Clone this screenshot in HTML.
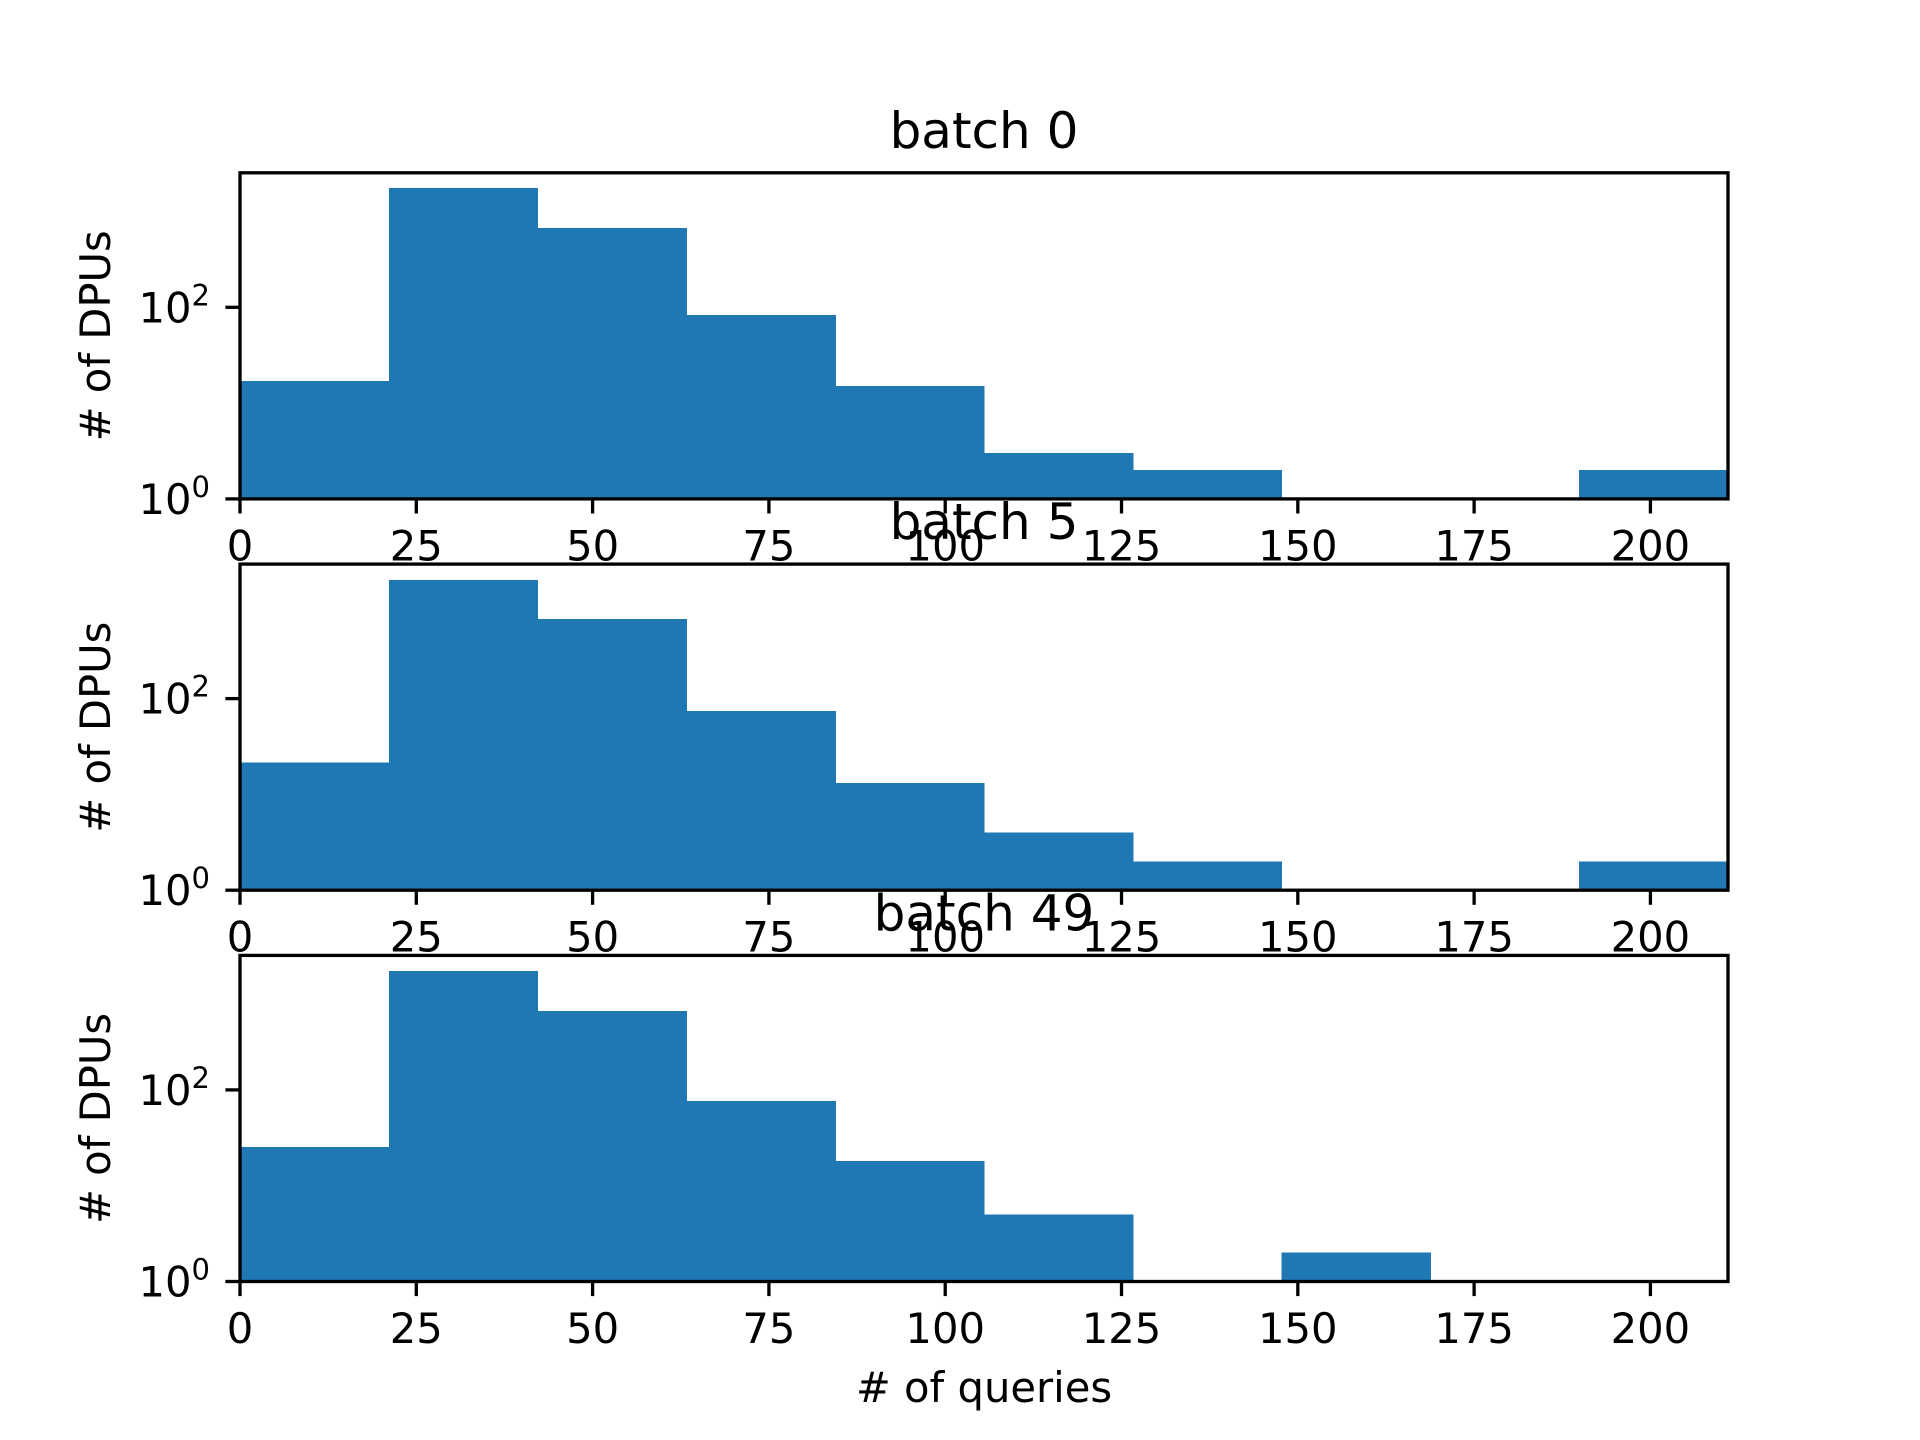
<!DOCTYPE html>
<html><head><meta charset="utf-8"><style>
html,body{margin:0;padding:0;background:#fff;}
svg{display:block;font-family:"DejaVu Sans","Liberation Sans",sans-serif;}
</style></head><body>
<svg id="chart" width="1920" height="1440" viewBox="0 0 1920 1440" xmlns="http://www.w3.org/2000/svg">
<rect x="0" y="0" width="1920" height="1440" fill="#fff"/>
</svg>
<script>
const panelTitles = ["batch 0", "batch 5", "batch 49"];
const binEdgeStart = 0;
const binWidth = 21.1;
const countsBatch0 = [17, 1760, 675, 83, 15, 3, 2, 0, 0, 2];
const countsBatch5 = [21.5, 1730, 677, 74, 13.2, 4, 2, 0, 0, 2];
const countsBatch49 = [25.4, 1746, 668, 77, 18, 5, 0, 2, 0, 0];
const xTicks = [0, 25, 50, 75, 100, 125, 150, 175, 200];
const yTickExps = [0, 2];

const series = [countsBatch0, countsBatch5, countsBatch49];
const NS = "http://www.w3.org/2000/svg";
const svg = document.getElementById("chart");
const L = 240, R = 1728, xMax = 211;
const panelTops = [172.8, 564.1, 955.4];
const H = 326.1;
const decadePx = 95.8;

function xs(v){ return L + (v / xMax) * (R - L); }
function mk(tag, attrs){ const e = document.createElementNS(NS, tag); for (const k in attrs) e.setAttribute(k, attrs[k]); return e; }

series.forEach((counts, p) => {
  const top = panelTops[p], bot = top + H;
  const ys = v => bot - Math.log10(v) * decadePx;
  const g = mk("g", {});
  
  
  svg.appendChild(g);

  counts.forEach((c, i) => {
    if (c <= 0) return;
    const x0 = xs(binEdgeStart + i * binWidth), x1 = Math.min(xs(binEdgeStart + (i + 1) * binWidth), R);
    const y = Math.max(ys(c), top);
    const r = mk("rect", {x: x0, y: y, width: x1 - x0 + 0.6, height: bot - y, fill: "#1f77b4", "shape-rendering": "crispEdges"});
    
    
    g.appendChild(r);
  });

  const frame = mk("rect", {x: L, y: top, width: R - L, height: H, fill: "none", stroke: "#000", "stroke-width": 3.3});
  
  
  g.appendChild(frame);

  xTicks.forEach(t => {
    const x = xs(t);
    const tk = mk("line", {x1: x, x2: x, y1: bot, y2: bot + 14.6, stroke: "#000", "stroke-width": 3.3});
    
    
    g.appendChild(tk);
    const tx = mk("text", {x: x, y: bot + 61.5, "font-size": 41.7, "text-anchor": "middle", fill: "#000"});
    tx.textContent = String(t);
    
    
    g.appendChild(tx);
  });

  yTickExps.forEach(e => {
    const y = bot - e * decadePx;
    const tk = mk("line", {x1: L - 14.6, x2: L, y1: y, y2: y, stroke: "#000", "stroke-width": 3.3});
    
    
    g.appendChild(tk);
    const tx = mk("text", {x: 210, y: y + 15, "font-size": 41.7, "text-anchor": "end", fill: "#000"});
    const base = mk("tspan", {}); base.textContent = "10";
    const sup = mk("tspan", {dy: -17, "font-size": 29}); sup.textContent = String(e);
    tx.appendChild(base); tx.appendChild(sup);
    
    
    g.appendChild(tx);
  });

  const title = mk("text", {x: (L + R) / 2, y: top - 25, "font-size": 50, "text-anchor": "middle", fill: "#000"});
  title.textContent = panelTitles[p];
  
  
  g.appendChild(title);

  const cy = top + H / 2;
  const yl = mk("text", {x: 110, y: cy, "font-size": 41.7, "text-anchor": "middle", fill: "#000", transform: "rotate(-90 110 " + cy + ")"});
  yl.textContent = "# of DPUs";
  
  
  g.appendChild(yl);
});

const xl = mk("text", {x: (L + R) / 2, y: 1402, "font-size": 41.7, "text-anchor": "middle", fill: "#000"});
xl.textContent = "# of queries";


svg.appendChild(xl);
</script>
</body></html>
